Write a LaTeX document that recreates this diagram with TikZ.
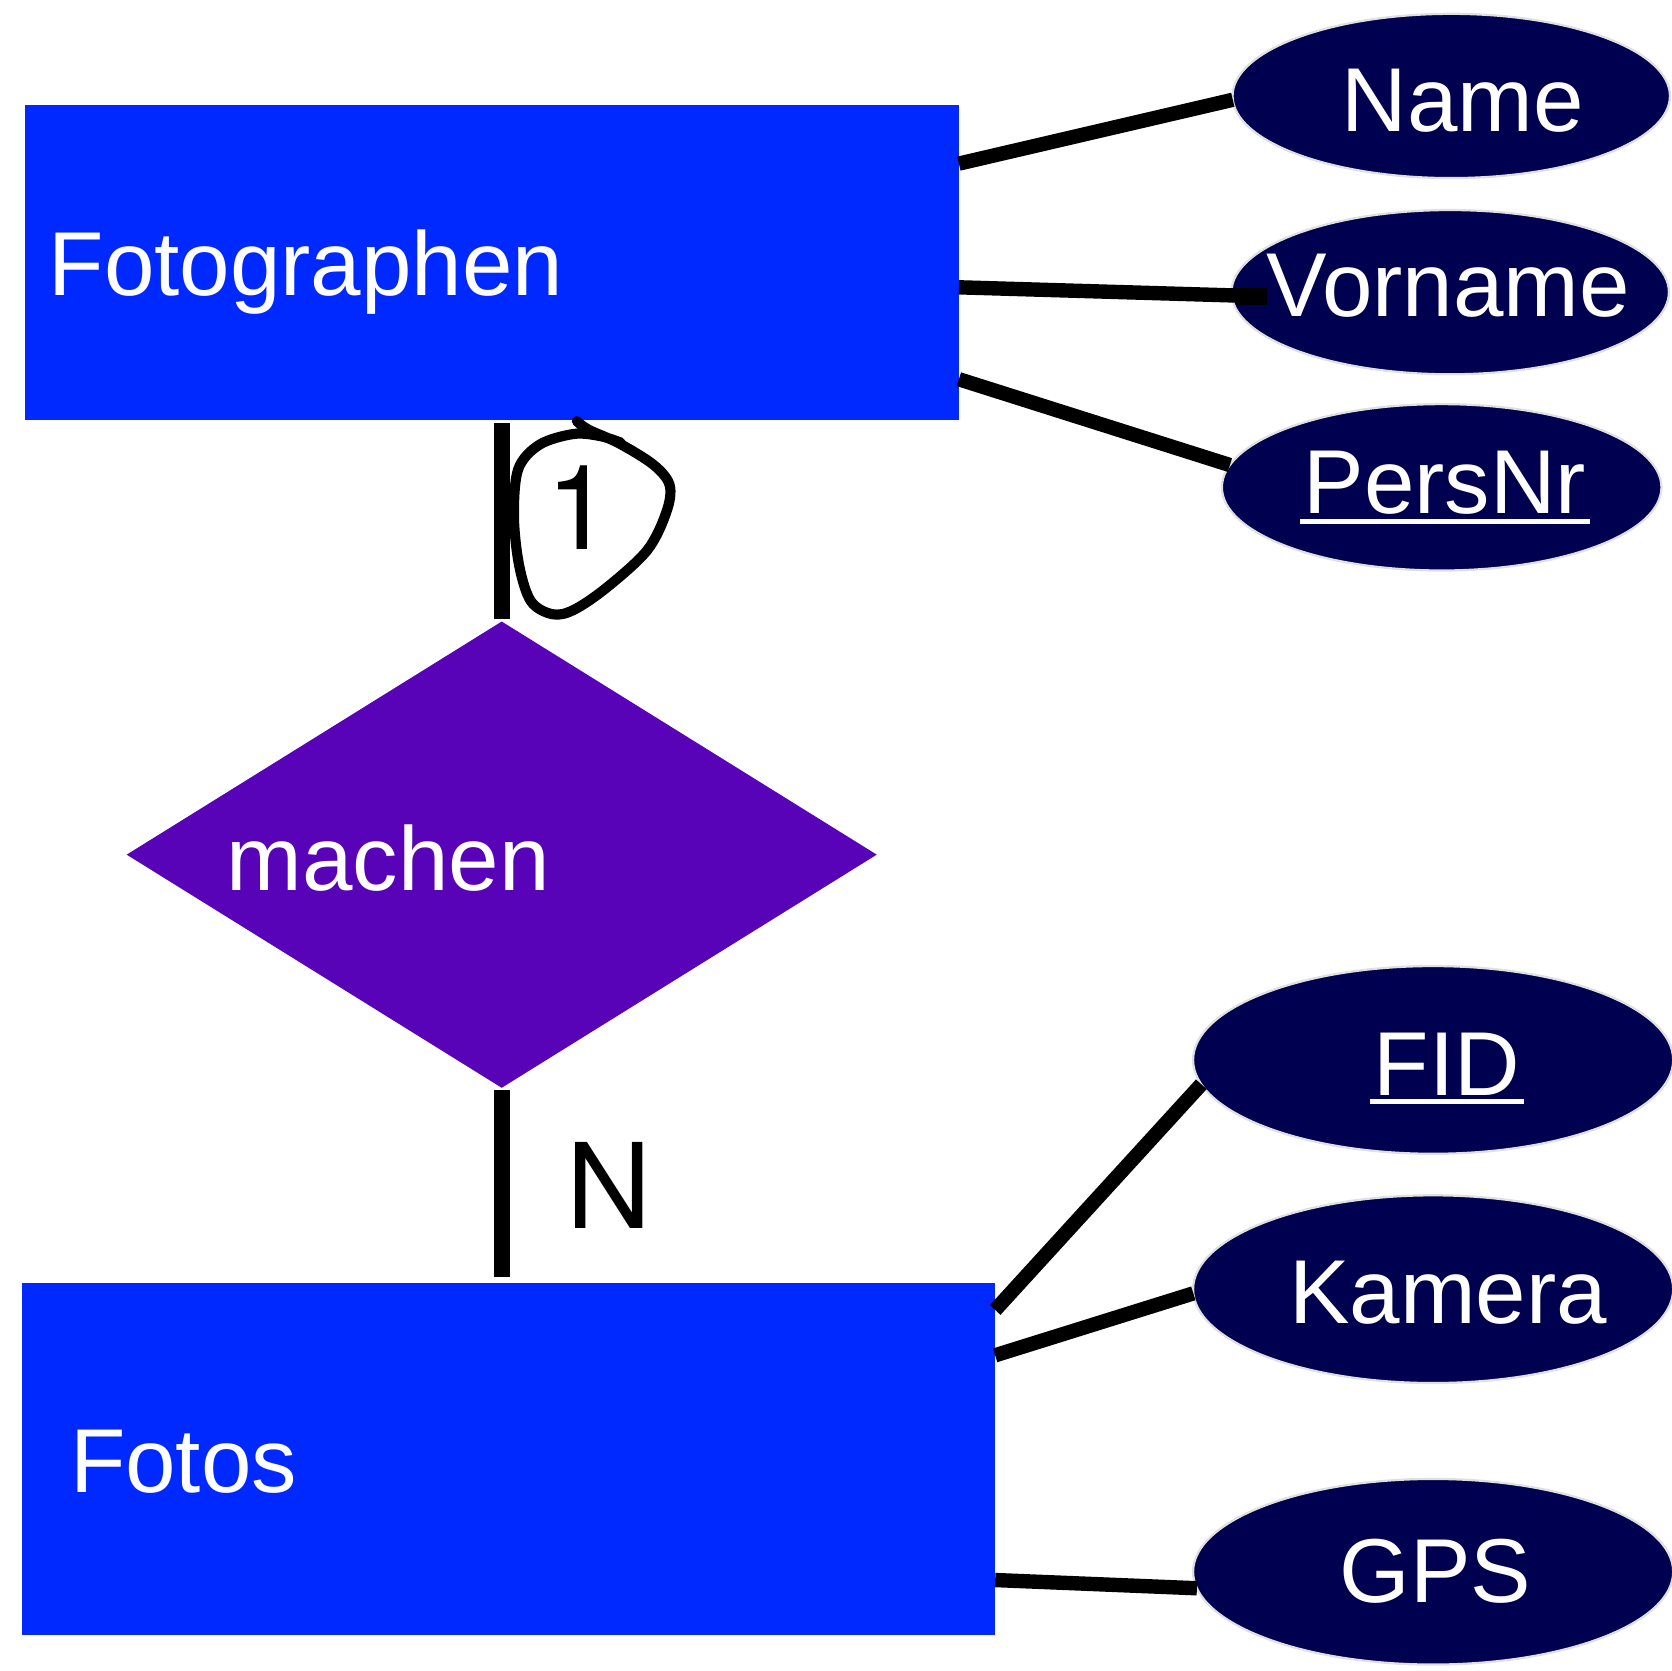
\documentclass[tikz,border=0pt]{standalone}
\usepackage{fontspec}
\setmainfont{Liberation Sans}
\newfontfamily\cardfont{TeX Gyre Heros}
\usetikzlibrary{shapes.geometric,calc}
\definecolor{entblue}{RGB}{0,41,255}
\definecolor{relpurple}{RGB}{88,3,184}
\definecolor{attnavy}{RGB}{0,0,80}
\begin{document}
\begin{tikzpicture}[x=0.01cm,y=-0.01cm,
  entity/.style={rectangle,fill=entblue,inner sep=0pt,outer sep=0pt},
  relation/.style={diamond,fill=relpurple,inner sep=0pt,outer sep=0pt},
  attr/.style={ellipse,fill=attnavy,draw=white!88!black,line width=0.6pt,inner sep=0pt,outer sep=0pt},
  lbl/.style={inner sep=0pt,text=white,font=\fontsize{24.2pt}{29pt}\selectfont},
  card/.style={inner sep=0pt,text=black,font=\cardfont\fontsize{31.5pt}{36pt}\selectfont,anchor=base},
  conn/.style={line width=0.135cm},
  vconn/.style={line width=0.15cm},
  hand/.style={line width=0.095cm,line cap=round,line join=round},
]
\useasboundingbox (0,0) rectangle (1568,1567);

% entities and relationship
\node[entity,minimum width=8.75cm,minimum height=2.95cm] (fotographen) at (461.5,246.5) {};
\node[entity,minimum width=9.12cm,minimum height=3.30cm] (fotos) at (477,1368) {};
\node[relation,minimum width=7.03cm,minimum height=4.37cm] (machen) at (470.5,801.5) {};

% attributes
\node[attr,minimum width=4.10cm,minimum height=1.54cm] (name) at (1361,90) {};
\node[attr,minimum width=4.10cm,minimum height=1.54cm] (vorname) at (1360,274) {};
\node[attr,minimum width=4.12cm,minimum height=1.56cm] (persnr) at (1352,457) {};
\node[attr,minimum width=4.50cm,minimum height=1.76cm] (fid) at (1344,994) {};
\node[attr,minimum width=4.50cm,minimum height=1.76cm] (kamera) at (1344,1209) {};
\node[attr,minimum width=4.50cm,minimum height=1.74cm] (gps) at (1344,1474) {};

% connectors
\draw[conn] (fotographen.12.2) -- (name.181.7);
\draw[conn] (fotographen.-3.3) -- ($(vorname.west)+(33,4)$);
\draw[line width=0.16cm] ($(vorname.west)+(4,4)$) -- ($(vorname.west)+(33,4)$);
\draw[conn] (fotographen.-14.5) -- (persnr.174.3);
\draw[conn] (fotos.17.7) -- (fid.186.3);
\draw[conn] (fotos.12.4) -- (kamera.181);
\draw[conn] (fotos.-14.6) -- (gps.184.1);
\draw[vconn] ($(machen.north)+(0,-2)$) -- ($(machen.north |- fotographen.south)+(0,3)$);
\draw[vconn] ($(machen.south)+(0,2)$) -- ($(machen.south |- fotos.north)+(0,-5)$);

% labels
\node[lbl,anchor=base west] (fotographenT) at (45,277) {Fotographen};
\node[lbl,anchor=base west] (machenT) at (212,835) {machen};
\node[lbl,anchor=base west] (fotosT) at (65,1400) {Fotos};
\node[lbl,anchor=base] (nameT) at (1372,123) {Name};
\node[lbl,anchor=base] (vornameT) at (1358,297) {Vorname};
\node[lbl,anchor=base] (persnrT) at (1355,482) {PersNr};
\node[lbl,anchor=base] (fidT) at (1357,1027) {FID};
\node[lbl,anchor=base] (kameraT) at (1358,1241) {Kamera};
\node[lbl,anchor=base] (gpsT) at (1346,1503) {GPS};
\draw[white,line width=0.045cm] ($(persnrT.base west)+(-3,7)$) -- ($(persnrT.base east)+(3,7)$);
\draw[white,line width=0.045cm] ($(fidT.base west)+(-3,6)$) -- ($(fidT.base east)+(3,6)$);

% cardinalities
\node[card] (one) at (543,515) {1};
\node[card] (many) at (571,1152) {N};

% hand-drawn loop around the 1
\draw[hand] plot[smooth,tension=0.55] coordinates {
  (541,395) (552,403) (581,416) (613,436) (628,455) (625,480) (607,516)
  (569,551) (538,572) (518,576) (498,564) (487,531) (482,485) (486,440)
  (506,417) (538,407) (563,409) (582,415)};
\end{tikzpicture}
\end{document}
